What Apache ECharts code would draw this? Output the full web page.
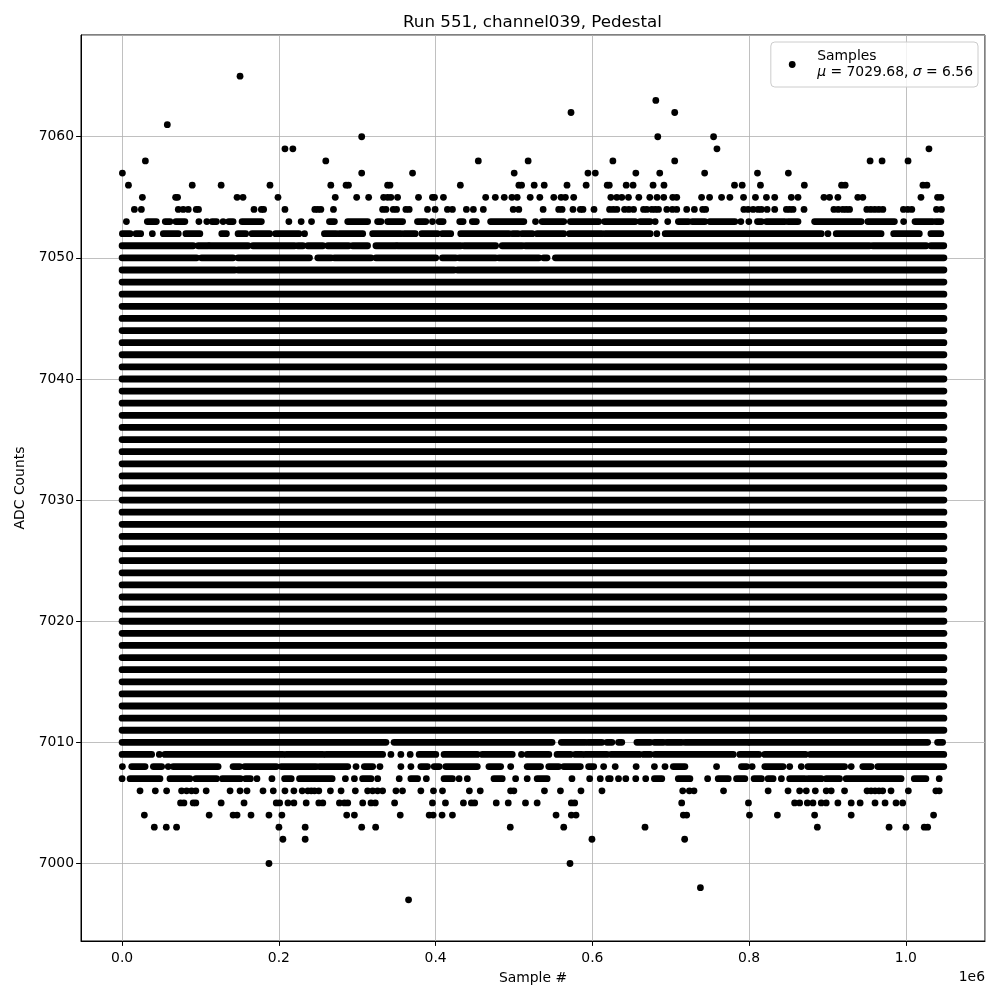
<!DOCTYPE html>
<html>
<head>
<meta charset="utf-8">
<script src="https://cdn.jsdelivr.net/npm/echarts@6/dist/echarts.min.js"></script>
<style>
  html, body { margin: 0; padding: 0; background: #fff; }
  #chart { width: 1000px; height: 1000px; }
</style>
</head>
<body>
<div id="chart"></div>
<script>
// sample index in thousands (k), ADC level in counts
var lastSample = 1048.575;
var xMin = -52.42875, xMax = 1101.00375;
var yMin = 6993.6, yMax = 7068.4;

// levels filled over the whole run
var fullRows = [7011, 7012, 7013, 7014, 7015, 7016, 7017, 7018, 7019, 7020, 7021, 7022, 7023, 7024, 7025,
  7026, 7027, 7028, 7029, 7030, 7031, 7032, 7033, 7034, 7035, 7036, 7037, 7038, 7039, 7040, 7041,
  7042, 7043, 7044, 7045, 7046, 7047, 7048];

// levels that are mostly filled: [level, [[from, to], ...]]
var runRows = [
  [7053, [[5.5,5.5],[32.2,43.7],[55.1,61.1],[68.7,80.1],[98,98],[108.1,108.1],[114.9,120.4],[128.9,128.9],[136.1,141.6],[153.1,177.7],[212.8,212.8],[228.5,228.5],[241.7,241.7],[264.6,270.9],[287.9,313.3],[326,330.3],[338.8,357.9],[376.9,387.5],[396,396],[404.5,409.6],[430.8,435.1],[446.9,452],[470.2,512.6],[527.5,527.5],[536,563.5],[572,608.1],[615.6,654.7],[661,673.7],[680.2,680.2],[696.2,696.2],[709.8,722.5],[727.6,743.7],[750,781.9],[789.5,789.5],[799.7,799.7],[810.7,815.8],[822.1,845.5],[849.7,862.4],[883.6,943],[951.5,985.4],[997.2,997.2],[1011.7,1034.2],[1038.4,1044.7]]],
  [7052, [[0.4,10.2],[17.8,23.7],[38.6,38.6],[52.6,71.7],[81.4,99.2],[127.2,133.1],[148,157.7],[165.8,188.3],[195.9,225.6],[232.8,232.8],[258.2,273],[277.3,307],[319.7,355.7],[360.1,374],[382.4,402.3],[408.7,419.3],[432.1,493.5],[498.6,505],[510.5,523.3],[529.6,563.5],[570.9,612.2],[616.5,673.7],[682.3,682.3],[693,892.1],[900.6,900.6],[911.2,968.4],[984.5,1017.2],[1032,1044.7]]],
  [7051, [[0,90.7],[97.1,109.8],[111.9,160.7],[167,220],[224.3,230.7],[237,256.1],[262.5,289],[294.2,313.2],[323.9,349.3],[351.5,432.1],[436.3,476.6],[485,510.5],[514.7,953.6],[957.8,1025.9],[1032,1048.4]]],
  [7050, [[0,95],[101.3,141.6],[148,239.1],[249.7,266.7],[270.9,317.6],[323.9,400.2],[408.7,425.7],[430,476.6],[480.8,531.7],[537.9,542.2],[552.9,1048.575]]],
  [7049, [[0,143.8],[148,423.5],[428,1048.575]]],
  [7010, [[0,336.7],[347,548.6],[560.5,591],[594.4,612.2],[618.6,625],[633.4,637.6],[656.9,673.8],[679.2,690.7],[694.9,714],[718.2,798.8],[800.9,1027.8],[1040.5,1046.9]]],
  [7009, [[0,37.7],[47.5,47.5],[54.7,205.2],[209.5,256.1],[260.3,332.4],[343,343],[355.7,355.7],[367.6,367.6],[379,400.3],[410.8,453.2],[459.6,497.8],[509.6,509.6],[516.9,544.5],[555,572.1],[578.3,586.8],[591,618.6],[624.1,660],[665.5,673.9],[680.1,779.8],[788.2,812.4],[820,871.9],[878.3,1048.4]]],
  [7008, [[0.4,0.4],[12.3,29.3],[39.9,50.5],[58.9,58.9],[65.3,122.5],[141.6,150.1],[156.5,196.7],[203.1,247.6],[251.9,287.9],[298.5,298.5],[309.1,319.7],[329,329],[355.7,355.7],[368.5,368.5],[381.2,389.7],[398.2,404.6],[413,453.2],[468.1,483],[495.8,495.8],[516.9,533.9],[544.4,557.1],[563.5,584.7],[595.3,601.7],[614.4,614.4],[629.2,629.2],[655.9,655.9],[679.2,679.2],[692.7,692.7],[703.3,718.1],[758.5,758.5],[790.3,796.7],[803.9,803.9],[820.1,843.3],[851.8,851.8],[866.6,866.6],[875.1,921.8],[930.3,930.3],[945.1,955.7],[964.2,1048.4]]],
  [7007, [[0,0],[10.2,48.3],[61.1,86.5],[94.1,120.4],[128,150.9],[157.7,163.7],[172.1,172.1],[191.2,191.2],[207.4,215.8],[226.4,268],[284.9,284.9],[296.4,296.4],[306.9,317.6],[326.1,326.1],[353.6,353.6],[368.5,377],[388.2,388.2],[410.8,421.5],[430,430],[440.5,440.5],[474.5,485],[502.1,502.1],[516.9,516.9],[529.6,542.3],[574,574],[596.6,596.6],[610.1,610.1],[620.7,622.8],[633.4,633.4],[642.7,642.7],[655.4,655.4],[668.1,668.1],[679.2,688.6],[709.7,724.5],[747.1,747.1],[760.6,773.4],[784,794.6],[806.4,815.8],[824.3,830.6],[841.2,841.2],[851.8,871],[875.3,892.1],[898.4,915.4],[923.9,993.9],[1010.8,1025.6],[1042.6,1042.6]]]
];

// isolated samples: [level, [sample k, ...]]
var dotRows = [
  [7065, [150.5]],
  [7063, [681]],
  [7062, [572.8, 705.1]],
  [7061, [57.7]],
  [7060, [305.7, 683.5, 754.7]],
  [7059, [207.8, 217.9, 759, 1029.5]],
  [7058, [29.7, 259.9, 454.5, 518.1, 626.2, 705.1, 954.4, 969.7, 1002.8]],
  [7057, [0.4, 305.7, 370.6, 500.3, 594.4, 603.8, 655.5, 686, 743.3, 810.7, 850.1]],
  [7056, [8.1, 89.5, 126.4, 188.7, 266.3, 285.8, 288.8, 338.8, 341.8, 431.6, 506.3, 509.7, 525.8, 538.6, 567.7, 592.1, 619, 621.6, 643.2, 652, 677.5, 691.4, 781.4, 791.2, 814.5, 870.5, 918, 922.6, 1021.8, 1026.9]],
  [7055, [25.9, 68.3, 70.8, 146.7, 154.3, 198.9, 272, 299.3, 314.6, 333.7, 338.8, 343, 351.5, 378.2, 396, 398.6, 410, 463.9, 476.2, 487.6, 497.4, 504.1, 520.7, 533, 550.8, 560.1, 565.6, 576.2, 623.6, 631.2, 637.6, 646.1, 659.3, 673.3, 682.6, 691.1, 702.6, 707.7, 739.4, 749.6, 764.9, 775.5, 792.9, 808.1, 822.1, 832.7, 853.9, 862.4, 895.5, 902.7, 913.3, 938.7, 945.1, 1019.3, 1040.5, 1044.7]],
  [7054, [15.7, 24.6, 71.7, 78, 84.4, 94.6, 97.5, 168.3, 177.7, 180.6, 207.8, 245.9, 249.7, 253.6, 269.7, 332.4, 336.7, 346, 350.2, 362.1, 366.3, 389.7, 399.4, 415.1, 421.5, 439.3, 448.2, 460.9, 499, 506.2, 537.2, 557.1, 561.4, 575.3, 584.7, 588.1, 602.1, 622, 626.7, 631.3, 641.1, 646.6, 652.6, 665.3, 669.5, 675.9, 680.2, 684.4, 695, 702.2, 707.7, 720.4, 730.2, 740.8, 744.6, 793.3, 798.8, 805.2, 811.5, 815.7, 823, 832.7, 847.6, 851.8, 856.1, 870.1, 908.2, 913.7, 919.6, 923.9, 928.2, 950.2, 955.3, 960.4, 965.5, 970.7, 996.9, 1002.4, 1007.6, 1039.1, 1045.4]],
  [7006, [22.9, 42.4, 56.8, 75.9, 82.3, 88.6, 94.1, 107.3, 137.8, 150.5, 159.4, 179.8, 192.9, 207.8, 219.2, 229.8, 237, 241.3, 245.5, 251, 265.8, 279.4, 297.6, 313.3, 319.7, 326, 332.4, 349.4, 357.8, 381.2, 397.3, 408.8, 443.1, 457, 495.7, 499.9, 538.9, 559.3, 585.5, 612.3, 715.3, 723.8, 729.7, 767.4, 824.3, 849.7, 864.5, 873, 884.5, 898.4, 904.8, 921.8, 950.5, 955.6, 960.7, 965.8, 970.5, 981.1, 1003.2, 1038.3, 1042.6]],
  [7005, [74.6, 78.9, 90.7, 94.1, 126.4, 155.6, 196.7, 201, 211.6, 219.2, 234.9, 251, 256.1, 277.3, 283.7, 287.9, 307, 317.6, 323.1, 347.7, 396, 412.6, 435.5, 445.7, 449.9, 477.4, 492.7, 514.7, 529.6, 573.2, 577.5, 714, 799.2, 858.1, 864.5, 874.3, 881.5, 892.1, 898.4, 913.3, 930.3, 941.7, 960.7, 973.5, 987.5, 996]],
  [7004, [28.4, 111.1, 141.6, 146.7, 164.5, 187.4, 203.9, 286.6, 296.4, 354.9, 391.8, 396.9, 408.3, 421.5, 553.7, 573.2, 579.2, 716.1, 720.4, 800.5, 836.1, 883.6, 930.3, 1035.4]],
  [7003, [41.1, 56.4, 69.5, 200.1, 233.6, 305.7, 323.5, 495.3, 563.5, 667.2, 887.1, 978.6, 1000.2, 1023.5, 1027.8]],
  [7002, [205.2, 233.6, 599.5, 717.8]],
  [7000, [187.4, 571.5]],
  [6998, [737.9]],
  [6997, [365.5]]
];

var yTicks = [7000, 7010, 7020, 7030, 7040, 7050, 7060];
var legendMu = '7029.68';
var legendSigma = '6.56';

var FONT = 'DejaVu Sans';
var DOT = 6.8;

// build data in units of 1e6 samples
var runData = [];
fullRows.forEach(function (lv) { runData.push([lv, 0, lastSample / 1000]); });
runRows.forEach(function (row) {
  row[1].forEach(function (r) { runData.push([row[0], r[0] / 1000, r[1] / 1000]); });
});
var dotData = [];
dotRows.forEach(function (row) {
  row[1].forEach(function (k) { dotData.push([k / 1000, row[0]]); });
});

function renderRun(params, api) {
  var lv = api.value(0);
  var a = api.coord([api.value(1), lv]);
  var b = api.coord([api.value(2), lv]);
  return {
    type: 'rect',
    shape: { x: a[0] - DOT / 2, y: a[1] - DOT / 2, width: b[0] - a[0] + DOT, height: DOT, r: DOT / 2 },
    style: { fill: '#000' }
  };
}

var chart = echarts.init(document.getElementById('chart'));
var option = {
  animation: false,
  backgroundColor: '#fff',
  textStyle: { fontFamily: FONT },
  title: {
    text: 'Run 551, channel039, Pedestal',
    left: 403,
    top: 14,
    padding: 0,
    textStyle: { fontFamily: FONT, fontSize: 16.7, fontWeight: 'normal', color: '#000' }
  },
  legend: {
    data: [{ name: 'Samples', icon: 'circle' }],
    right: 22,
    top: 42,
    orient: 'vertical',
    itemWidth: 40,
    itemHeight: DOT,
    padding: [6, 5, 6, 18],
    backgroundColor: 'rgba(255,255,255,0.8)',
    borderColor: '#cccccc',
    borderWidth: 1,
    borderRadius: 4,
    selectedMode: false,
    formatter: function () {
      return 'Samples\n{i|\u03bc} = ' + legendMu + ', {i|\u03c3} = ' + legendSigma;
    },
    textStyle: {
      fontFamily: FONT, fontSize: 13.9, color: '#000', lineHeight: 16.5,
      rich: { i: { fontFamily: FONT, fontStyle: 'italic', fontSize: 13.9, color: '#000', lineHeight: 16.5 } }
    }
  },
  grid: { left: 81, right: 15, top: 35, bottom: 59, show: true, borderColor: '#000', borderWidth: 1, backgroundColor: 'transparent' },
  xAxis: {
    type: 'value',
    min: xMin / 1000,
    max: xMax / 1000,
    name: 'Sample #',
    nameLocation: 'middle',
    nameGap: 30,
    nameTextStyle: { fontFamily: FONT, fontSize: 13.9, color: '#000' },
    axisLine: { show: true, onZero: false, lineStyle: { color: '#000', width: 1 } },
    axisTick: { show: true, inside: false, length: 4.9, lineStyle: { color: '#000', width: 1 } },
    axisLabel: {
      show: true, margin: 10, color: '#000', fontFamily: FONT, fontSize: 13.9,
      showMinLabel: false, showMaxLabel: false,
      formatter: function (v) { return v.toFixed(1); }
    },
    splitLine: { show: true, lineStyle: { color: '#b0b0b0', width: 0.8 } }
  },
  yAxis: {
    type: 'value',
    min: yMin,
    max: yMax,
    name: 'ADC Counts',
    nameLocation: 'middle',
    nameGap: 53,
    nameTextStyle: { fontFamily: FONT, fontSize: 13.9, color: '#000' },
    axisLine: { show: true, onZero: false, lineStyle: { color: '#000', width: 1 } },
    axisTick: { show: true, inside: false, length: 4.9, lineStyle: { color: '#000', width: 1 } },
    axisLabel: {
      show: true, margin: 7, color: '#000', fontFamily: FONT, fontSize: 13.9,
      showMinLabel: false, showMaxLabel: false,
      formatter: function (v) { return yTicks.indexOf(Math.round(v)) >= 0 ? String(Math.round(v)) : ''; }
    },
    splitLine: { show: true, lineStyle: { color: '#b0b0b0', width: 0.8 } }
  },
  graphic: [{
    type: 'text',
    right: 15,
    top: 970,
    style: { text: '1e6', fontFamily: FONT, fontSize: 13.9, fill: '#000' }
  }],
  series: [
    {
      name: 'rows',
      type: 'custom',
      renderItem: renderRun,
      encode: { x: [1, 2], y: 0 },
      data: runData,
      clip: true,
      silent: true
    },
    {
      name: 'Samples',
      type: 'scatter',
      symbol: 'circle',
      symbolSize: DOT,
      itemStyle: { color: '#000', opacity: 1 },
      data: dotData,
      silent: true
    }
  ]
};
chart.setOption(option);
</script>
</body>
</html>
